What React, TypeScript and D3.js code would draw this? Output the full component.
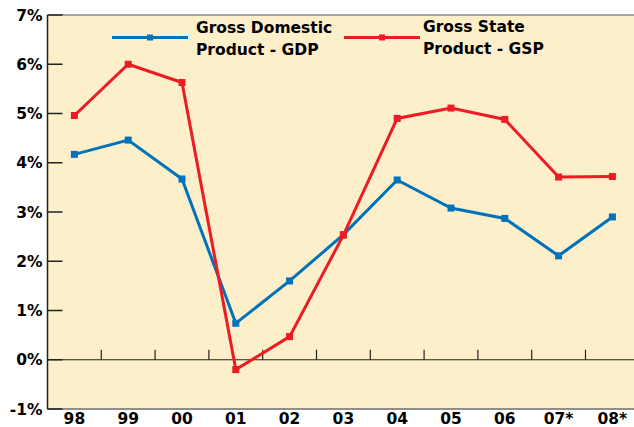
import React from "react";
import * as d3 from "d3";

const categories = ["98", "99", "00", "01", "02", "03", "04", "05", "06", "07*", "08*"];
const gdpValues = [4.17, 4.46, 3.67, 0.74, 1.6, 2.54, 3.65, 3.08, 2.87, 2.11, 2.9];
const gspValues = [4.96, 6.0, 5.63, -0.2, 0.47, 2.53, 4.9, 5.11, 4.88, 3.71, 3.72];
const yTicks = [-1, 0, 1, 2, 3, 4, 5, 6, 7];
const seriesNames = [["Gross Domestic", "Product - GDP"], ["Gross State", "Product - GSP"]];

const W = 634;
const H = 427;
const BLUE = "#0072BC";
const RED = "#ED1C24";
const BG = "#FCEFCA";
const FONT = "'DejaVu Sans', 'Open Sans', sans-serif";

export default function App() {
  const left = 47.5;
  const top = 15;
  const bottom = 409;
  const step = 53.8;
  const x = d3
    .scaleBand<string>()
    .domain(categories)
    .range([left, left + step * categories.length])
    .paddingInner(0)
    .paddingOuter(0);
  const y = d3.scaleLinear().domain([-1, 7]).range([bottom, top]);
  const cx = (c: string) => (x(c) as number) + x.bandwidth() / 2;

  const line = d3
    .line<number>()
    .x((_, i) => cx(categories[i]))
    .y((d) => y(d));

  const series = [
    { values: gdpValues, color: BLUE },
    { values: gspValues, color: RED },
  ];

  const legend = [
    { x1: 112, x2: 188, tx: 196, color: BLUE, names: seriesNames[0], baseline: 33 },
    { x1: 344, x2: 420, tx: 423, color: RED, names: seriesNames[1], baseline: 32 },
  ];

  return (
    <svg
      width={W}
      height={H}
      style={{ position: "absolute", left: 0, top: 0, display: "block", background: "#fff" }}
      fontFamily={FONT}
    >
      <rect x={left} y={top} width={W - left} height={bottom - top} fill={BG} />
      <line x1={left} x2={W} y1={top} y2={top} stroke="#8a8a8a" strokeWidth={1.5} />
      <line x1={left} x2={W} y1={bottom} y2={bottom} stroke="#6d6d6d" strokeWidth={1.5} />
      <line x1={left} x2={left} y1={top} y2={bottom} stroke="#222" strokeWidth={1.5} />
      <line x1={left} x2={W} y1={y(0)} y2={y(0)} stroke="#222" strokeWidth={1.2} />
      {categories.slice(1).map((c) => (
        <line
          key={"t" + c}
          x1={x(c) as number}
          x2={x(c) as number}
          y1={y(0)}
          y2={y(0) - 10}
          stroke="#222"
          strokeWidth={1.2}
        />
      ))}
      {yTicks.map((t) => (
        <g key={"y" + t}>
          <line x1={left} x2={left + 15} y1={y(t)} y2={y(t)} stroke="#222" strokeWidth={1.5} />
          <text
            x={42.5}
            y={y(t)}
            dy="0.36em"
            textAnchor="end"
            fontSize={15.5}
            fontWeight={700}
            fill="#000"
          >
            {t + "%"}
          </text>
        </g>
      ))}
      {categories.map((c) => (
        <text
          key={"x" + c}
          x={cx(c)}
          y={423.5}
          textAnchor="middle"
          fontSize={15.5}
          fontWeight={700}
          fill="#000"
        >
          {c}
        </text>
      ))}
      {series.map((s, si) => (
        <g key={"s" + si}>
          <path d={line(s.values) || ""} fill="none" stroke={s.color} strokeWidth={3} strokeLinejoin="miter" />
          {s.values.map((v, i) => (
            <rect
              key={i}
              x={cx(categories[i]) - 3.5}
              y={y(v) - 3.5}
              width={7}
              height={7}
              fill={s.color}
            />
          ))}
        </g>
      ))}
      {legend.map((l, li) => (
        <g key={"l" + li}>
          <line x1={l.x1} x2={l.x2} y1={37.5} y2={37.5} stroke={l.color} strokeWidth={3} />
          <rect x={(l.x1 + l.x2) / 2 - 3} y={34.5} width={6} height={6} fill={l.color} />
          {l.names.map((n, ni) => (
            <text
              key={ni}
              x={l.tx}
              y={l.baseline + ni * 21.5}
              fontSize={15.5}
              fontWeight={700}
              fill="#000"
            >
              {n}
            </text>
          ))}
        </g>
      ))}
    </svg>
  );
}
